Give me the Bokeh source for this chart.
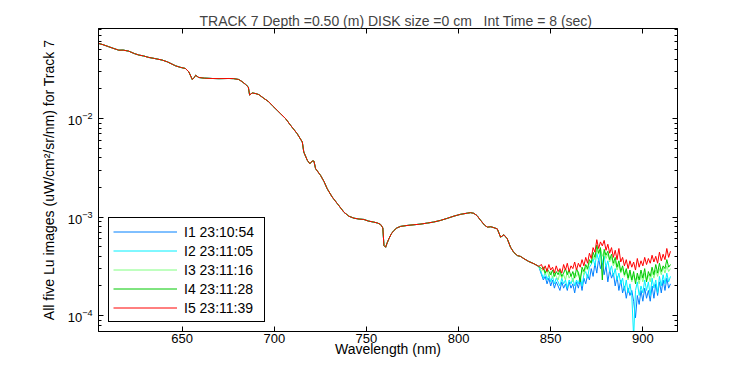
from bokeh.plotting import figure
from bokeh.models import (FixedTicker, LogAxis, LinearAxis, Legend, LegendItem,
                          LogTickFormatter, CustomJSTickFormatter)
from bokeh.embed import file_html
from bokeh.resources import INLINE

# ---------------- data ----------------
wl_head = [604.6, 607, 610, 613, 615.6, 618, 621, 624, 626.5, 629, 631.9, 635, 639.2, 642,
           646.4, 649, 651.8, 653.6, 655.5, 656.5, 657.3, 659.0, 662, 666.3, 670, 675.3, 678,
           680.7, 682.5, 684.4, 685.9, 686.6, 688.0, 690, 691.6, 694, 697.0, 699, 701.6, 703.4,
           706.1, 708.8, 712.4, 715.2, 716.0, 717.9, 719.3, 720.6, 721.5, 722.4, 725.1, 727,
           728.7, 731.4, 734.2, 737.8, 740.5, 743.2, 746, 748.6, 751, 754, 756, 757.7, 758.9,
           759.5, 760.4, 761.3, 762.2, 763.5, 764.9, 766.5, 768.5, 772, 775.8, 779, 783, 786.5,
           790.2, 794, 797.5, 801, 804.7, 806.5, 808.3, 810, 812, 814, 815.6, 817.5, 819.2, 821,
           822.8, 824.6, 826.4, 828.2, 830, 831.9, 833.7, 835.5, 838, 840.9, 843.5]
lu_head = [0.0579, 0.0562, 0.0537, 0.0513, 0.0494, 0.0495, 0.0483, 0.0457, 0.0441, 0.0432,
           0.0417, 0.0407, 0.0392, 0.0376, 0.0343, 0.0331, 0.0322, 0.0298, 0.0249, 0.0260,
           0.0275, 0.0261, 0.0257, 0.0255, 0.0254, 0.0255, 0.0254, 0.0249, 0.0237, 0.0222,
           0.0209, 0.0173, 0.0182, 0.0179, 0.0175, 0.0162, 0.0148, 0.0135, 0.0121, 0.0112,
           0.0100, 0.00855, 0.00703, 0.00578, 0.00457, 0.00377, 0.00348, 0.00371, 0.00370,
           0.00310, 0.00265, 0.00229, 0.00194, 0.00160, 0.00137, 0.00112, 0.00102, 0.000975,
           0.000955, 0.000946, 0.000912, 0.000889, 0.000871, 0.000841, 0.000776, 0.000515,
           0.000494, 0.000550, 0.000603, 0.000676, 0.000731, 0.000776, 0.000804, 0.000822,
           0.000836, 0.000847, 0.000869, 0.000891, 0.000925, 0.000973, 0.001023, 0.001066,
           0.001096, 0.001109, 0.001091, 0.001035, 0.000925, 0.000832, 0.000791, 0.000798,
           0.000780, 0.000759, 0.000625, 0.000662, 0.000603, 0.000494, 0.000437, 0.000407,
           0.000398, 0.000378, 0.000355, 0.000336, 0.000316]

wl_tail = [845, 846, 847, 848, 849, 850, 851, 852, 853, 854,
           855, 856, 857, 858, 859, 860, 861, 862, 863, 864,
           865, 866, 867, 868, 869, 870, 871, 872, 873, 874,
           875, 876, 877, 878, 879, 880, 881, 882, 883, 884,
           885, 886, 887, 888, 889, 890, 891, 892, 893, 894,
           895, 896, 897, 898, 899, 900, 901, 902, 903, 904,
           905, 906, 907, 908, 909, 910, 911, 912, 913, 914,
           915]
lu1_tail = [2.6e-4, 2.3e-4, 2.5e-4, 2.1e-4, 2.4e-4, 2.0e-4, 2.3e-4, 1.9e-4, 2.2e-4, 2.0e-4,
            1.8e-4, 2.2e-4, 1.9e-4, 2.1e-4, 1.8e-4, 2.2e-4, 1.9e-4, 2.1e-4, 1.7e-4, 2.2e-4,
            1.9e-4, 2.3e-4, 1.8e-4, 2.4e-4, 2.1e-4, 2.6e-4, 2.3e-4, 3.0e-4, 2.5e-4, 3.4e-4,
            2.7e-4, 3.8e-4, 3.0e-4, 3.5e-4, 2.6e-4, 3.2e-4, 2.2e-4, 2.9e-4, 2.4e-4, 2.7e-4,
            2.0e-4, 2.5e-4, 1.8e-4, 2.3e-4, 1.7e-4, 2.0e-4, 1.5e-4, 1.9e-4, 1.6e-4, 1.8e-4,
            1.4e-4, 0.95e-4, 1.6e-4, 1.3e-4, 1.8e-4, 1.4e-4, 1.9e-4, 1.5e-4, 1.8e-4, 1.4e-4,
            2.0e-4, 1.5e-4, 2.1e-4, 1.6e-4, 2.2e-4, 1.7e-4, 2.3e-4, 1.8e-4, 2.4e-4, 1.9e-4,
            2.1e-4]
lu2_tail = [2.7e-4, 2.4e-4, 2.8e-4, 2.3e-4, 2.6e-4, 2.2e-4, 2.5e-4, 2.1e-4, 2.4e-4, 2.2e-4,
            2.0e-4, 2.4e-4, 2.1e-4, 2.3e-4, 1.9e-4, 2.3e-4, 2.1e-4, 2.4e-4, 2.0e-4, 2.3e-4,
            2.1e-4, 2.5e-4, 2.0e-4, 2.6e-4, 2.8e-4, 2.4e-4, 3.1e-4, 3.3e-4, 3.8e-4, 3.2e-4,
            4.3e-4, 3.6e-4, 4.5e-4, 3.4e-4, 4.0e-4, 3.1e-4, 3.6e-4, 2.8e-4, 3.2e-4, 2.5e-4,
            3.0e-4, 2.3e-4, 2.7e-4, 2.1e-4, 2.4e-4, 1.8e-4, 2.3e-4, 1.7e-4, 2.1e-4, 1.6e-4,
            0.6e-4, 1.8e-4, 2.2e-4, 1.6e-4, 2.0e-4, 1.7e-4, 2.3e-4, 1.8e-4, 2.2e-4, 1.6e-4,
            2.4e-4, 1.9e-4, 2.3e-4, 1.7e-4, 2.5e-4, 2.0e-4, 2.6e-4, 2.1e-4, 2.7e-4, 2.2e-4,
            2.5e-4]
lu3_tail = [2.8e-4, 3.0e-4, 2.6e-4, 2.9e-4, 2.5e-4, 2.8e-4, 2.4e-4, 2.7e-4, 2.5e-4, 2.3e-4,
            2.7e-4, 2.4e-4, 2.6e-4, 2.3e-4, 2.8e-4, 2.4e-4, 2.6e-4, 2.2e-4, 2.7e-4, 2.5e-4,
            2.8e-4, 2.4e-4, 2.9e-4, 2.6e-4, 3.1e-4, 2.9e-4, 3.4e-4, 3.6e-4, 4.0e-4, 3.7e-4,
            4.6e-4, 4.2e-4, 4.8e-4, 4.0e-4, 4.5e-4, 3.8e-4, 4.2e-4, 3.5e-4, 3.9e-4, 3.2e-4,
            3.6e-4, 2.9e-4, 3.3e-4, 2.7e-4, 3.0e-4, 2.5e-4, 2.8e-4, 2.3e-4, 2.7e-4, 2.2e-4,
            2.6e-4, 2.3e-4, 2.5e-4, 2.1e-4, 2.6e-4, 2.2e-4, 2.7e-4, 2.3e-4, 2.6e-4, 2.2e-4,
            2.8e-4, 2.4e-4, 2.9e-4, 2.5e-4, 3.0e-4, 2.6e-4, 3.1e-4, 2.7e-4, 3.2e-4, 2.8e-4,
            3.0e-4]
lu4_tail = [3.0e-4, 3.1e-4, 2.7e-4, 3.0e-4, 2.8e-4, 2.6e-4, 2.9e-4, 2.5e-4, 2.8e-4, 2.6e-4,
            2.9e-4, 2.5e-4, 2.7e-4, 3.0e-4, 2.6e-4, 2.9e-4, 2.5e-4, 2.8e-4, 2.4e-4, 3.0e-4,
            2.7e-4, 2.2e-4, 3.1e-4, 2.8e-4, 3.3e-4, 3.0e-4, 3.7e-4, 3.4e-4, 4.4e-4, 3.9e-4,
            5.2e-4, 4.3e-4, 4.9e-4, 2.3e-4, 4.7e-4, 4.1e-4, 4.5e-4, 3.7e-4, 4.2e-4, 3.4e-4,
            3.9e-4, 3.1e-4, 3.6e-4, 2.8e-4, 3.2e-4, 2.6e-4, 3.0e-4, 2.4e-4, 2.9e-4, 2.3e-4,
            2.8e-4, 2.1e-4, 2.7e-4, 2.3e-4, 2.9e-4, 2.4e-4, 3.0e-4, 2.2e-4, 2.8e-4, 2.5e-4,
            3.1e-4, 2.6e-4, 3.3e-4, 2.7e-4, 3.4e-4, 2.8e-4, 3.2e-4, 3.0e-4, 3.7e-4, 3.1e-4,
            3.3e-4]
lu5_tail = [3.3e-4, 2.9e-4, 3.2e-4, 2.8e-4, 3.3e-4, 2.9e-4, 3.1e-4, 2.7e-4, 3.2e-4, 2.8e-4,
            3.0e-4, 2.7e-4, 3.3e-4, 2.9e-4, 3.4e-4, 2.8e-4, 3.2e-4, 3.0e-4, 3.5e-4, 2.9e-4,
            3.4e-4, 3.1e-4, 3.7e-4, 3.2e-4, 3.9e-4, 3.4e-4, 4.3e-4, 3.8e-4, 4.9e-4, 4.4e-4,
            5.9e-4, 4.8e-4, 5.6e-4, 5.1e-4, 5.8e-4, 4.6e-4, 5.3e-4, 4.3e-4, 4.9e-4, 3.9e-4,
            4.6e-4, 3.7e-4, 4.8e-4, 3.5e-4, 3.9e-4, 3.2e-4, 3.7e-4, 3.0e-4, 3.6e-4, 3.1e-4,
            3.5e-4, 2.9e-4, 3.8e-4, 3.1e-4, 3.6e-4, 3.2e-4, 3.9e-4, 3.3e-4, 3.8e-4, 3.4e-4,
            4.1e-4, 3.5e-4, 4.0e-4, 3.4e-4, 4.4e-4, 3.6e-4, 4.2e-4, 3.7e-4, 4.8e-4, 3.9e-4,
            4.5e-4]

series_names = ["I1 23:10:54", "I2 23:11:05", "I3 23:11:16", "I4 23:11:28", "I5 23:11:39"]
series_tails = [lu1_tail, lu2_tail, lu3_tail, lu4_tail, lu5_tail]
series_colors = ["#0080ff", "#00f0ff", "#80ff80", "#00c800", "#ff0000"]

x_ticks = [650, 700, 750, 800, 850, 900]
y_ticks = [1e-4, 1e-3, 1e-2]
y_minor = [8e-5, 9e-5,
           2e-4, 3e-4, 4e-4, 5e-4, 6e-4, 7e-4, 8e-4, 9e-4,
           2e-3, 3e-3, 4e-3, 5e-3, 6e-3, 7e-3, 8e-3, 9e-3,
           2e-2, 3e-2, 4e-2, 5e-2, 6e-2, 7e-2, 8e-2]

title_text = "TRACK 7 Depth =0.50 (m) DISK size =0 cm\u00a0\u00a0\u00a0Int Time = 8 (sec)"
x_label = "Wavelength (nm)"
y_label = "All five Lu images (uW/cm\u00b2/sr/nm) for Track 7"

FONT = "Liberation Sans"
FS = "14px"
TICK_FS = "13px"

# ---------------- figure ----------------
p = figure(width=734, height=359, x_range=(604.6, 918.8), y_range=(6.9e-5, 0.082),
           y_axis_type="log", output_backend="svg", toolbar_location=None,
           min_border_left=98, min_border_right=57, min_border_top=28, min_border_bottom=28)
p.background_fill_color = "white"
p.border_fill_color = "white"
p.outline_line_color = "black"
p.outline_line_width = 1
p.xgrid.visible = False
p.ygrid.visible = False

p.title.text = title_text
p.title.align = "left"
p.title.offset = 101
p.title.text_font = FONT
p.title.text_font_size = FS
p.title.text_font_style = "normal"
p.title.standoff = 0

renderers = []
for name, tail, col in zip(series_names, series_tails, series_colors):
    r = p.line(wl_head + wl_tail, lu_head + tail, line_color=col, line_width=1)
    renderers.append((name, r))

def style_axis(ax):
    ax.axis_line_color = "black"
    ax.major_tick_line_color = "black"
    ax.minor_tick_line_color = "black"
    ax.major_tick_in = 5
    ax.major_tick_out = 0
    ax.minor_tick_in = 3
    ax.minor_tick_out = 0
    ax.major_label_text_font = FONT
    ax.major_label_text_font_size = TICK_FS
    ax.major_label_text_color = "black"
    ax.axis_label_text_font = FONT
    ax.axis_label_text_font_size = FS
    ax.axis_label_text_font_style = "normal"
    ax.axis_label_text_color = "black"

xa = p.xaxis[0]
xa.ticker = FixedTicker(ticks=x_ticks, minor_ticks=[])
xa.axis_label = x_label
style_axis(xa)
xa.major_label_standoff = 2
xa.axis_label_standoff = -5

ya = p.yaxis[0]
ya.ticker = FixedTicker(ticks=y_ticks, minor_ticks=y_minor)
ya.formatter = LogTickFormatter()
ya.axis_label = y_label
style_axis(ya)
ya.major_label_standoff = 6
ya.axis_label_standoff = 8

blank = CustomJSTickFormatter(code="return ''")

top = LinearAxis(ticker=FixedTicker(ticks=x_ticks, minor_ticks=[]), formatter=blank)
style_axis(top)
top.major_label_standoff = 6
top.major_label_text_font_size = "1px"
p.add_layout(top, "above")

right = LogAxis(ticker=FixedTicker(ticks=y_ticks, minor_ticks=y_minor), formatter=blank)
style_axis(right)
right.major_label_standoff = 0
right.major_label_text_font_size = "1px"
p.add_layout(right, "right")

legend = Legend(items=[LegendItem(label=n, renderers=[r]) for n, r in renderers],
                location=(10, 9))
legend.border_line_color = "black"
legend.border_line_width = 1
legend.border_line_alpha = 1
legend.background_fill_color = "white"
legend.background_fill_alpha = 1
legend.label_text_font = FONT
legend.label_text_font_size = FS
legend.label_text_color = "black"
legend.glyph_width = 64
legend.glyph_height = 19
legend.label_height = 19
legend.label_width = 76
legend.label_standoff = 7
legend.spacing = 0
legend.padding = 4
legend.margin = 0
legend.title_standoff = 0
p.add_layout(legend)

open("out.html", "w").write(file_html(p, INLINE))
